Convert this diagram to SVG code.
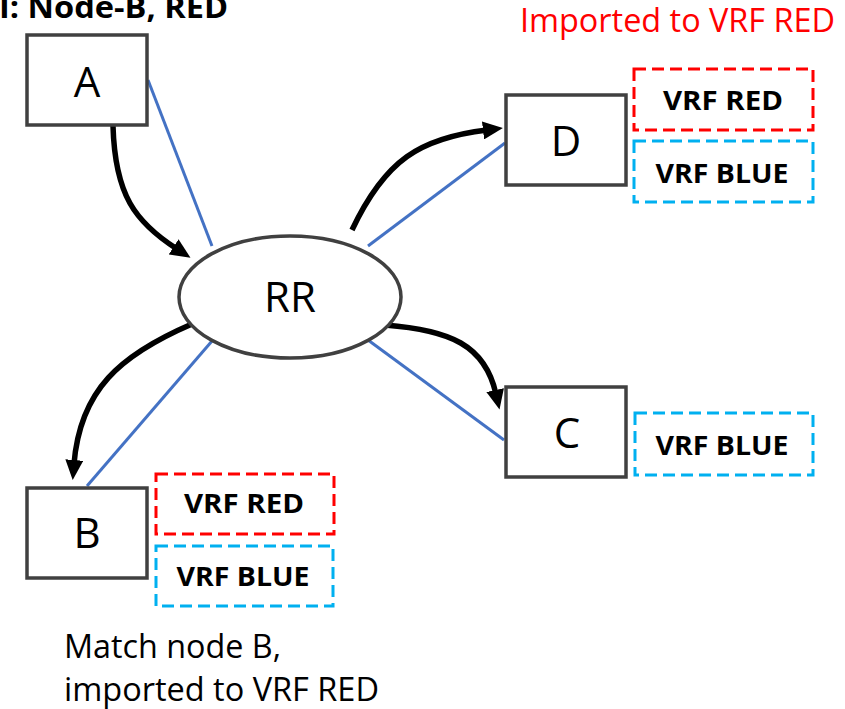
<svg xmlns="http://www.w3.org/2000/svg" width="845" height="709" viewBox="0 0 845 709">
<style>
text{font-family:"Open Sans","Liberation Sans",sans-serif;}
.box{fill:#fff;stroke:#404040;stroke-width:3.5;}
.lbl{font-size:42px;fill:#000;text-anchor:middle;}
.vrf{font-size:27px;font-weight:bold;fill:#000;text-anchor:middle;}
.red{fill:none;stroke:#FF0000;stroke-width:3;stroke-dasharray:12 6;}
.blue{fill:none;stroke:#00B0F0;stroke-width:3;stroke-dasharray:12 6;}
.link{stroke:#4472C4;stroke-width:3;fill:none;}
.arr{stroke:#000;stroke-width:5.5;fill:none;marker-end:url(#ah);}
</style>
<defs>
<marker id="ah" markerUnits="userSpaceOnUse" markerWidth="20" markerHeight="18" viewBox="0 0 20 18" refX="4" refY="9" orient="auto">
<path d="M0,0 L20,9 L0,18 z" fill="#000"/>
</marker>
</defs>
<rect width="845" height="709" fill="#fff"/>
<text x="-1" y="18" font-size="30" font-weight="bold" textLength="229" lengthAdjust="spacingAndGlyphs">I: Node-B, RED</text>
<text x="520" y="32" font-size="32" fill="#FF0000" textLength="315" lengthAdjust="spacingAndGlyphs">Imported to VRF RED</text>
<g id="connectors">
<line class="link" x1="148" y1="80" x2="212" y2="246"/>
<line class="link" x1="368" y1="246" x2="505" y2="143"/>
<line class="link" x1="368" y1="340" x2="504" y2="440"/>
<line class="link" x1="212" y1="341" x2="87" y2="486"/>
<path class="arr" d="M113,126 C115,195 135,222 177,249"/>
<path class="arr" d="M352,230 C385,160 420,138 487,130"/>
<path class="arr" d="M385,325 C450,330 485,345 496,394"/>
<path class="arr" d="M192,324 C120,355 80,390 74,464"/>
</g>
<g id="RR">
<ellipse cx="290" cy="297" rx="111" ry="61" fill="#fff" stroke="#404040" stroke-width="3.5"/>
<text class="lbl" x="290" y="312">RR</text>
</g>
<g id="A">
<rect class="box" x="27" y="35" width="120" height="90"/>
<text class="lbl" x="87" y="97">A</text>
</g>
<g id="D">
<rect class="box" x="506" y="95" width="120" height="90"/>
<text class="lbl" x="566" y="156">D</text>
<rect class="red" x="634" y="69" width="179" height="61"/>
<text class="vrf" x="723" y="110" textLength="120" lengthAdjust="spacingAndGlyphs">VRF RED</text>
<rect class="blue" x="634" y="141" width="179" height="61"/>
<text class="vrf" x="722" y="183" textLength="133" lengthAdjust="spacingAndGlyphs">VRF BLUE</text>
</g>
<g id="C">
<rect class="box" x="506" y="387" width="120" height="90"/>
<text class="lbl" x="567" y="448">C</text>
<rect class="blue" x="635" y="413" width="178" height="62"/>
<text class="vrf" x="722" y="455" textLength="133" lengthAdjust="spacingAndGlyphs">VRF BLUE</text>
</g>
<g id="B">
<rect class="box" x="27" y="488" width="120" height="90"/>
<text class="lbl" x="87" y="548">B</text>
<rect class="red" x="156" y="474" width="178" height="60"/>
<text class="vrf" x="244" y="513" textLength="120" lengthAdjust="spacingAndGlyphs">VRF RED</text>
<rect class="blue" x="156" y="546" width="177" height="60"/>
<text class="vrf" x="243" y="586" textLength="133" lengthAdjust="spacingAndGlyphs">VRF BLUE</text>
</g>
<text x="64" y="658" font-size="32" textLength="217" lengthAdjust="spacingAndGlyphs">Match node B,</text>
<text x="64" y="701" font-size="32" textLength="315" lengthAdjust="spacingAndGlyphs">imported to VRF RED</text>
</svg>
